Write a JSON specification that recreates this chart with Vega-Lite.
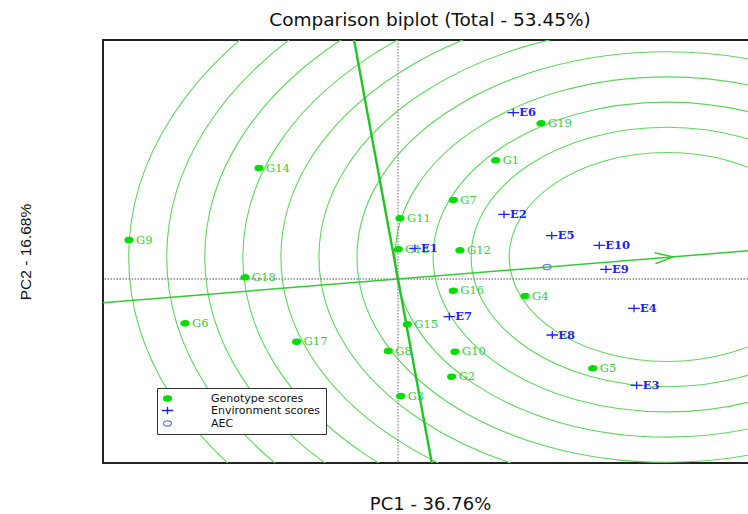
{
  "$schema": "https://vega.github.io/schema/vega-lite/v6.json",
  "width": 654,
  "height": 423,
  "autosize": "none",
  "padding": {"left": 103, "top": 40, "right": 0, "bottom": 51},
  "background": "white",
  "title": {"text": "Comparison biplot (Total - 53.45%)", "font": "DejaVu Sans", "fontSize": 18.5, "fontWeight": "normal", "color": "#111", "offset": 10},
  "datasets": {
    "scores": [
      {"name": "G1", "kind": "Genotype scores", "x": 1.294, "y": 2.374},
      {"name": "G2", "kind": "Genotype scores", "x": 0.711, "y": -1.954},
      {"name": "G3", "kind": "Genotype scores", "x": 0.035, "y": -2.34},
      {"name": "G4", "kind": "Genotype scores", "x": 1.682, "y": -0.34},
      {"name": "G5", "kind": "Genotype scores", "x": 2.579, "y": -1.786},
      {"name": "G6", "kind": "Genotype scores", "x": -2.821, "y": -0.886},
      {"name": "G7", "kind": "Genotype scores", "x": 0.733, "y": 1.58},
      {"name": "G8", "kind": "Genotype scores", "x": -0.128, "y": -1.44},
      {"name": "G9", "kind": "Genotype scores", "x": -3.563, "y": 0.78},
      {"name": "G10", "kind": "Genotype scores", "x": 0.755, "y": -1.454},
      {"name": "G11", "kind": "Genotype scores", "x": 0.026, "y": 1.214},
      {"name": "G12", "kind": "Genotype scores", "x": 0.821, "y": 0.574},
      {"name": "G13", "kind": "Genotype scores", "x": 0.004, "y": 0.594},
      {"name": "G14", "kind": "Genotype scores", "x": -1.841, "y": 2.22},
      {"name": "G15", "kind": "Genotype scores", "x": 0.124, "y": -0.906},
      {"name": "G16", "kind": "Genotype scores", "x": 0.733, "y": -0.234},
      {"name": "G17", "kind": "Genotype scores", "x": -1.342, "y": -1.254},
      {"name": "G18", "kind": "Genotype scores", "x": -2.026, "y": 0.034},
      {"name": "G19", "kind": "Genotype scores", "x": 1.894, "y": 3.114},
      {"name": "E1", "kind": "Environment scores", "x": 0.225, "y": 0.614},
      {"name": "E2", "kind": "Environment scores", "x": 1.404, "y": 1.294},
      {"name": "E3", "kind": "Environment scores", "x": 3.161, "y": -2.126},
      {"name": "E4", "kind": "Environment scores", "x": 3.126, "y": -0.586},
      {"name": "E5", "kind": "Environment scores", "x": 2.036, "y": 0.866},
      {"name": "E6", "kind": "Environment scores", "x": 1.527, "y": 3.326},
      {"name": "E7", "kind": "Environment scores", "x": 0.68, "y": -0.754},
      {"name": "E8", "kind": "Environment scores", "x": 2.044, "y": -1.12},
      {"name": "E9", "kind": "Environment scores", "x": 2.755, "y": 0.194},
      {"name": "E10", "kind": "Environment scores", "x": 2.666, "y": 0.674},
      {"name": "", "kind": "AEC", "x": 1.974, "y": 0.24}
    ],
    "rings": [
      {"x": 3.563, "y": 0.44, "r": 2.09},
      {"x": 3.563, "y": 0.44, "r": 2.594},
      {"x": 3.563, "y": 0.44, "r": 3.098},
      {"x": 3.563, "y": 0.44, "r": 3.602},
      {"x": 3.563, "y": 0.44, "r": 4.106},
      {"x": 3.563, "y": 0.44, "r": 4.61},
      {"x": 3.563, "y": 0.44, "r": 5.114},
      {"x": 3.563, "y": 0.44, "r": 5.618},
      {"x": 3.563, "y": 0.44, "r": 6.122},
      {"x": 3.563, "y": 0.44, "r": 6.626},
      {"x": 3.563, "y": 0.44, "r": 7.13}
    ],
    "aec": [{"x": -4.5, "y": -0.548}, {"x": 5.0, "y": 0.6085}],
    "perp": [{"x": -0.6085, "y": 5.0}, {"x": 0.4868, "y": -4.0}],
    "tip": [{"x": 3.642, "y": 0.443}]
  },
  "layer": [
    {
      "data": {"name": "rings"},
      "mark": {"type": "point", "clip": true, "filled": false, "opacity": 1, "stroke": "#5ed65e", "strokeWidth": 1.1,
        "shape": "M1.51,0C1.51,0.5523 0.834,1 0,1C-0.834,1 -1.51,0.5523 -1.51,0C-1.51,-0.5523 -0.834,-1 0,-1C0.834,-1 1.51,-0.5523 1.51,0Z"},
      "encoding": {
        "x": {"field": "x", "type": "quantitative", "scale": {"domain": [-3.907, 4.755], "nice": false, "zero": false},
          "axis": {"title": "PC1 - 36.76%", "labels": false, "ticks": false, "domain": false, "grid": false, "titlePadding": 32, "titleFont": "DejaVu Sans", "titleFontSize": 18, "titleFontWeight": "normal", "titleColor": "#111"}},
        "y": {"field": "y", "type": "quantitative", "scale": {"domain": [-3.68, 4.78], "nice": false, "zero": false},
          "axis": {"title": "PC2 - 16.68%", "labels": false, "ticks": false, "domain": false, "grid": false, "titlePadding": 70, "titleFont": "Liberation Sans", "titleFontSize": 15.5, "titleFontWeight": "normal", "titleColor": "#111"}},
        "size": {"field": "r", "type": "quantitative", "scale": {"type": "pow", "exponent": 2, "domain": [0, 10], "range": [0, 1000000]}, "legend": null}
      }
    },
    {
      "data": {"values": [{}]},
      "mark": {"type": "rule", "stroke": "#8a8a8a", "strokeWidth": 1.3, "strokeDash": [1.5, 1.5]},
      "encoding": {"x": {"datum": 0, "type": "quantitative"}}
    },
    {
      "data": {"values": [{}]},
      "mark": {"type": "rule", "stroke": "#8a8a8a", "strokeWidth": 1.3, "strokeDash": [1.5, 1.5]},
      "encoding": {"y": {"datum": 0, "type": "quantitative"}}
    },
    {
      "data": {"name": "aec"},
      "mark": {"type": "line", "clip": true, "stroke": "#33cc33", "strokeWidth": 1.5},
      "encoding": {"x": {"field": "x", "type": "quantitative"}, "y": {"field": "y", "type": "quantitative"}}
    },
    {
      "data": {"name": "perp"},
      "mark": {"type": "line", "clip": true, "stroke": "#22c422", "strokeWidth": 2.4},
      "encoding": {"x": {"field": "x", "type": "quantitative"}, "y": {"field": "y", "type": "quantitative"}}
    },
    {
      "data": {"name": "tip"},
      "mark": {"type": "point", "filled": false, "opacity": 1, "stroke": "#33cc33", "strokeWidth": 1.5, "size": 100, "angle": -4.6,
        "shape": "M-3.6,-1.1L0,0L-3.6,1.1"},
      "encoding": {"x": {"field": "x", "type": "quantitative"}, "y": {"field": "y", "type": "quantitative"}}
    },
    {
      "data": {"name": "scores"},
      "mark": {"type": "point", "filled": true, "opacity": 1, "size": 28, "strokeWidth": 1.3},
      "encoding": {
        "x": {"field": "x", "type": "quantitative"},
        "y": {"field": "y", "type": "quantitative"},
        "shape": {"field": "kind", "type": "nominal",
          "scale": {"domain": ["Genotype scores", "Environment scores", "AEC"],
            "range": [
              "M1.51,0C1.51,0.5523 0.834,1 0,1C-0.834,1 -1.51,0.5523 -1.51,0C-1.51,-0.5523 -0.834,-1 0,-1C0.834,-1 1.51,-0.5523 1.51,0Z",
              "M-2.2,0L2.2,0M0,-1.45L0,1.45",
              "M1.51,0C1.51,0.5523 0.834,1 0,1C-0.834,1 -1.51,0.5523 -1.51,0C-1.51,-0.5523 -0.834,-1 0,-1C0.834,-1 1.51,-0.5523 1.51,0Z"
            ]},
          "legend": {"title": null}},
        "fill": {"field": "kind", "type": "nominal",
          "scale": {"domain": ["Genotype scores", "Environment scores", "AEC"], "range": ["#00dd00", "transparent", "transparent"]},
          "legend": {"title": null}},
        "stroke": {"field": "kind", "type": "nominal",
          "scale": {"domain": ["Genotype scores", "Environment scores", "AEC"], "range": ["#00dd00", "#2020ff", "#6f80d8"]},
          "legend": {"title": null}}
      }
    },
    {
      "data": {"name": "scores"},
      "transform": [{"filter": "datum.kind === 'Genotype scores'"}],
      "mark": {"type": "text", "align": "left", "baseline": "middle", "dx": 7, "dy": 0.5, "font": "DejaVu Serif", "fontSize": 11.5, "fill": "#3cc83c"},
      "encoding": {"x": {"field": "x", "type": "quantitative"}, "y": {"field": "y", "type": "quantitative"}, "text": {"field": "name"}}
    },
    {
      "data": {"name": "scores"},
      "transform": [{"filter": "datum.kind === 'Environment scores'"}],
      "mark": {"type": "text", "align": "left", "baseline": "middle", "dx": 6, "dy": 0.5, "font": "DejaVu Serif", "fontSize": 11.5, "fontWeight": "bold", "fill": "#2424e8"},
      "encoding": {"x": {"field": "x", "type": "quantitative"}, "y": {"field": "y", "type": "quantitative"}, "text": {"field": "name"}}
    }
  ],
  "config": {
    "view": {"stroke": "#222222", "strokeWidth": 2},
    "legend": {"orient": "none", "legendX": 54, "legendY": 348, "padding": 5, "strokeColor": "#333333", "fillColor": "white",
      "labelFont": "DejaVu Sans", "labelFontSize": 11, "labelColor": "#111", "labelOffset": 38, "rowPadding": 0,
      "symbolStrokeWidth": 1.3, "symbolSize": 28, "cornerRadius": 0}
  }
}
